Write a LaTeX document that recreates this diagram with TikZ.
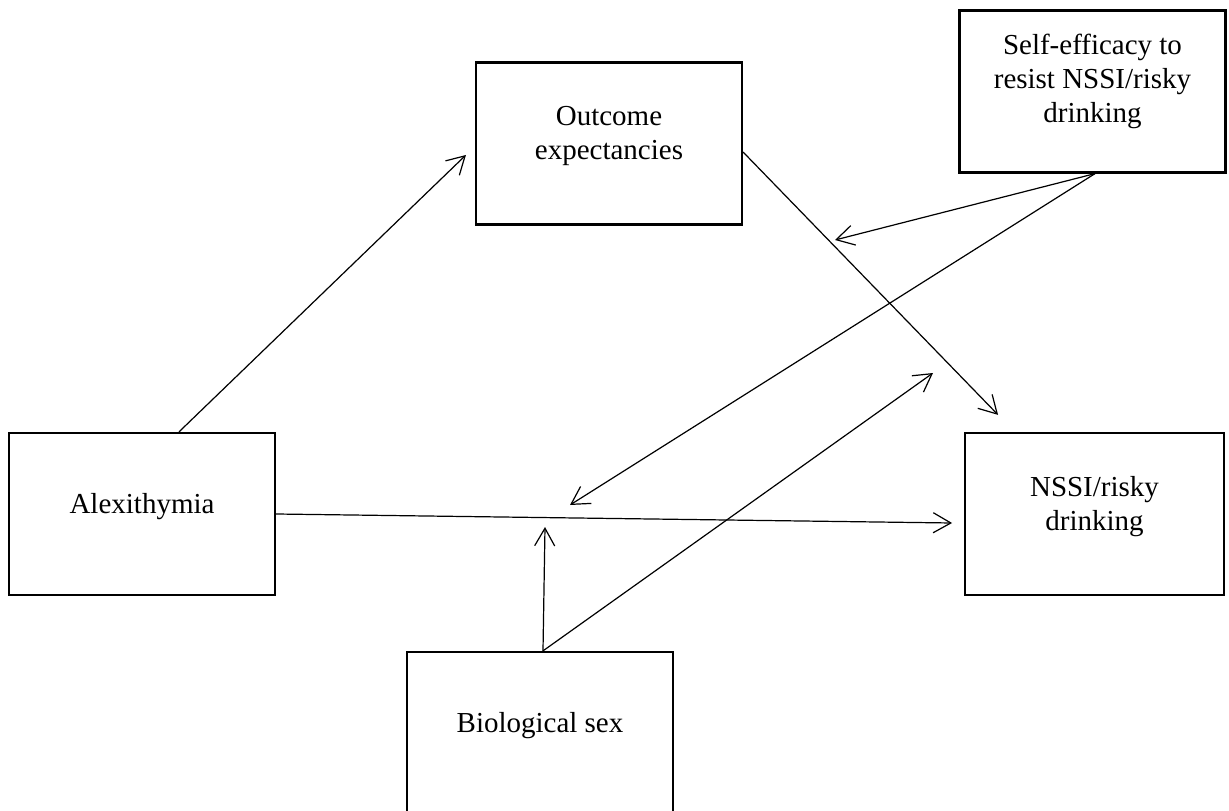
\documentclass[tikz,border=0pt]{standalone}
\usepackage{fontspec}
\setmainfont{Liberation Serif}
\usetikzlibrary{arrows.meta}
\begin{document}
\begin{tikzpicture}[
x=0.414pt,y=-0.414pt,
>={Straight Barb[length=7.3pt,width=8.3pt]},
every node/.style={draw,line width=1pt,align=center,font=\fontsize{12}{14}\selectfont,
  minimum width=110pt,minimum height=67pt,text depth=9pt},
link/.style={->,line width=0.5pt}
]
\useasboundingbox (0,0) rectangle (1229,811);
\node (outcome) at (609,143.5) {Outcome\\expectancies};
\node (self) at (1092.5,91.5) [text depth=11pt] {Self-efficacy to\\resist NSSI/risky\\drinking};
\node (alex) at (142,514) {Alexithymia};
\node (nssi) at (1094.5,514) [minimum width=107pt] {NSSI/risky\\drinking};
\node (bio) at (540,733) {Biological sex};

% moderation points
\coordinate (mod1) at (835,240);
\coordinate (mod2) at (570,505);
\coordinate (mod3) at (545,527);
\coordinate (mod4) at (933,373);

\draw[link] ([shift={(37,0)}]alex.north)--([shift={(-9,11.5)}]outcome.west);
\draw[link] ([shift={(0,8.5)}]outcome.east)--([shift={(34,-17)}]nssi.north west);
\draw[link] (alex.east)--([shift={(-12,9)}]nssi.west);
\draw[link] ([shift={(2.5,0)}]self.south)--(mod1);
\draw[link] ([shift={(2.5,0)}]self.south)--(mod2);
\draw[link] ([shift={(3,0)}]bio.north)--(mod3);
\draw[link] ([shift={(3,0)}]bio.north)--(mod4);
\end{tikzpicture}
\end{document}
